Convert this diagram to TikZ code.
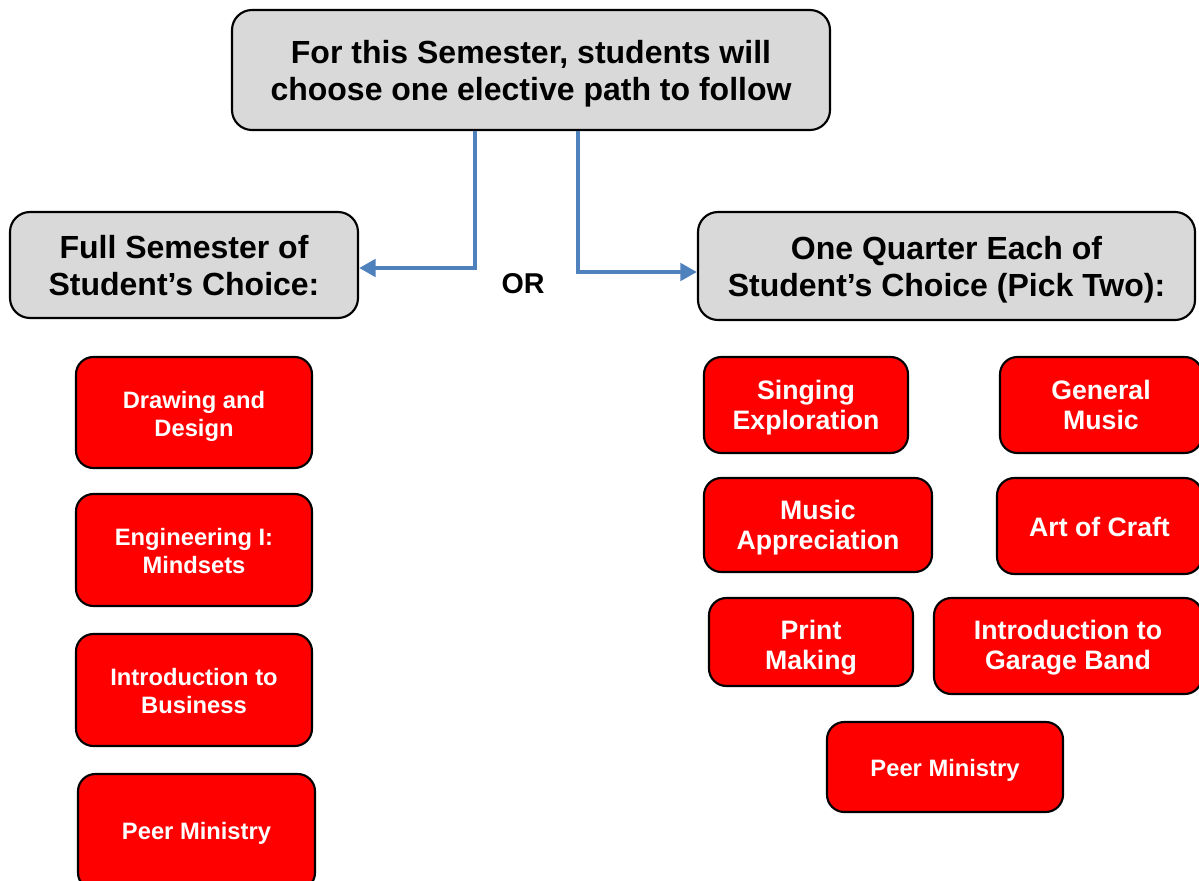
\documentclass[tikz,border=0pt]{standalone}
\usepackage{fontspec}
\setmainfont{Liberation Sans}
\usetikzlibrary{arrows.meta}
\definecolor{hdrgray}{HTML}{D9D9D9}
\definecolor{boxred}{HTML}{FF0000}
\definecolor{arrowblue}{HTML}{4F81BD}
\begin{document}
\begin{tikzpicture}[x=0.75pt,y=-0.75pt,
  hdr/.style={draw=black,line width=1.6pt,fill=hdrgray,rounded corners=15pt,inner sep=0pt},
  hdrtext/.style={inner sep=0pt,align=center,font=\fontsize{24}{27.75}\selectfont\bfseries},
  redbox/.style={draw=black,line width=1.6pt,fill=boxred,rounded corners=13pt,inner sep=0pt},
  smalltxt/.style={inner sep=0pt,align=center,text=white,font=\fontsize{17.8}{21}\selectfont\bfseries},
  bigtxt/.style={inner sep=0pt,align=center,text=white,font=\fontsize{20}{22.5}\selectfont\bfseries},
  conn/.style={draw=arrowblue,line width=3.2pt,-{Triangle[length=12.5pt,width=13pt]}}
]
\clip (0,0) rectangle (1199,881);
\fill[white] (0,0) rectangle (1199,881);

% headers
\node[hdr,minimum width=448.5pt,minimum height=90pt] (top) at (531,70) {};
\node[hdrtext] (topt) at ([yshift=-3pt]top.center)
  {For this Semester, students will\\choose one elective path to follow};
\node[hdr,minimum width=261pt,minimum height=79.5pt] (lhead) at (184,265) {};
\node[hdrtext] (lheadt) at ([yshift=-0.75pt]lhead.center)
  {Full Semester of\\Student’s Choice:};
\node[hdr,minimum width=372.75pt,minimum height=81pt] (rhead) at (946.5,266) {};
\node[hdrtext] (rheadt) at ([yshift=-3pt]rhead.center)
  {One Quarter Each of\\Student’s Choice (Pick Two):};
\node[font=\fontsize{21.5}{24}\selectfont\bfseries] (or) at (523,284) {OR};

\draw[conn] ([xshift=-42pt]top.south) |- ([yshift=-2.25pt]lhead.east);
\draw[conn] ([xshift=35.25pt]top.south) |- ([yshift=-4.5pt]rhead.west);

% left column
\node[redbox,minimum width=177pt,minimum height=83.25pt] (l1) at (194,412.5) {};
\node[smalltxt] (l1t) at ([yshift=-3pt]l1.center) {Drawing and\\Design};
\node[redbox,minimum width=177pt,minimum height=84pt] (l2) at (194,550) {};
\node[smalltxt] (l2t) at ([yshift=-0.75pt]l2.center) {Engineering I:\\Mindsets};
\node[redbox,minimum width=177pt,minimum height=84pt] (l3) at (194,690) {};
\node[smalltxt] (l3t) at ([yshift=-0.75pt]l3.center) {Introduction to\\Business};
\node[redbox,minimum width=177.75pt,minimum height=87pt] (l4) at (196.5,832) {};
\node[smalltxt] (l4t) at ([yshift=-0.75pt]l4.center) {Peer Ministry};

% right column
\node[redbox,minimum width=153pt,minimum height=72pt] (r1) at (806,405) {};
\node[bigtxt] (r1t) at ([yshift=-2.25pt]r1.center) {Singing\\Exploration};
\node[redbox,minimum width=151.5pt,minimum height=72pt] (r2) at (1101,405) {};
\node[bigtxt] (r2t) at (r2.center) {General\\Music};
\node[redbox,minimum width=171pt,minimum height=70.5pt] (r3) at (818,525) {};
\node[bigtxt] (r3t) at ([yshift=-1.9pt]r3.center) {Music\\Appreciation};
\node[redbox,minimum width=153.75pt,minimum height=72pt] (r4) at (1099.5,526) {};
\node[bigtxt] (r4t) at ([yshift=-0.75pt]r4.center) {Art of Craft};
\node[redbox,minimum width=153pt,minimum height=66pt] (r5) at (811,642) {};
\node[bigtxt] (r5t) at ([yshift=-4.5pt]r5.center) {Print\\Making};
\node[redbox,minimum width=201pt,minimum height=72pt] (r6) at (1068,646) {};
\node[bigtxt] (r6t) at ([yshift=-1.5pt]r6.center) {Introduction to\\Garage Band};
\node[redbox,minimum width=177pt,minimum height=67.5pt] (r7) at (945,767) {};
\node[smalltxt] (r7t) at ([yshift=-2.25pt]r7.center) {Peer Ministry};
\end{tikzpicture}
\end{document}
